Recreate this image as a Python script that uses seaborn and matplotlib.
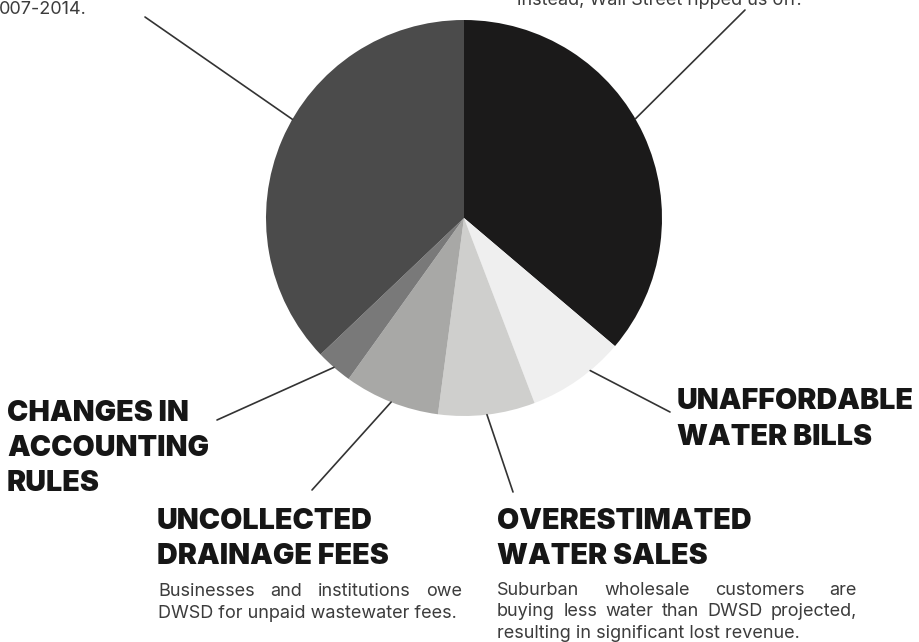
import matplotlib
matplotlib.use("Agg")
import matplotlib.pyplot as plt
import numpy as np
import seaborn as sns

# Datos del gráfico (porcentaje de cada causa)
causas = ["Wall Street", "Unaffordable water bills", "Overestimated water sales",
          "Uncollected drainage fees", "Changes in accounting rules", "Other 2007-2014"]
valores = [36.2, 8.0, 7.9, 7.8, 3.0, 37.1]

# Textos de las etiquetas
titulo_facturas = ["UNAFFORDABLE", "WATER BILLS"]
titulo_ventas = ["OVERESTIMATED", "WATER SALES"]
titulo_drenaje = ["UNCOLLECTED", "DRAINAGE FEES"]
titulo_contab = ["CHANGES IN", "ACCOUNTING", "RULES"]
texto_drenaje = ["Businesses and institutions owe", "DWSD for unpaid wastewater fees."]
texto_ventas = ["Suburban wholesale customers are",
                "buying less water than DWSD projected,",
                "resulting in significant lost revenue."]
texto_arriba_izq = "007-2014."
texto_arriba_der = "instead, Wall Street ripped us off."

colores = ["#1b1a1a", "#efefef", "#cfcfcd", "#a8a8a6", "#797979", "#4b4b4b"]

sns.set_theme(style="white")
plt.rcParams["font.family"] = ["Inter", "DejaVu Sans"]

W, H = 919, 642
fig = plt.figure(figsize=(W / 100, H / 100), dpi=100)

# Pastel: centro (464, 218) px, radio 198 px
cx, cy, R = 464, 218, 198
ax = fig.add_axes([(cx - R) / W, (H - cy - R) / H, 2 * R / W, 2 * R / H])
wedges, _ = ax.pie(valores, colors=colores, startangle=90, counterclock=False,
                   wedgeprops=dict(linewidth=0))
ax.set_xlim(-1, 1)
ax.set_ylim(-1, 1)

# Capa superior en coordenadas de píxel (origen arriba a la izquierda)
ov = fig.add_axes([0, 0, 1, 1], facecolor="none")
ov.set_xlim(0, W)
ov.set_ylim(H, 0)
ov.axis("off")

# Líneas guía: punto dentro de cada porción (fracción del arco) hasta el texto
fraccion = [0.46, 0.35, 0.5, 0.5, 0.5, 0.55]
extremos = [(745, 10), (670, 412), (513, 492), (312, 490), (217, 420), (145, 17)]
for w, f, (px, py) in zip(wedges, fraccion, extremos):
    ang = np.deg2rad(w.theta2 + f * (w.theta1 - w.theta2))
    ax.annotate("", xy=(np.cos(ang), np.sin(ang)), xycoords="data",
                xytext=(px, H - py), textcoords="figure pixels",
                arrowprops=dict(arrowstyle="-", color="#333333", lw=1.2,
                                shrinkA=0, shrinkB=0))

head = dict(fontsize=20.6, fontweight=900, color="#161616", va="baseline", ha="left")
body = dict(fontsize=13, fontweight=400, color="#3c3c3c", va="baseline", ha="left")


def bloque(x, y0, lineas, paso, **kw):
    for i, t in enumerate(lineas):
        ov.text(x, y0 + i * paso, t, **kw)


def justificado(x0, x1, y0, lineas, paso, **kw):
    r = fig.canvas.get_renderer()
    for i, linea in enumerate(lineas):
        y = y0 + i * paso
        palabras = linea.split()
        if i == len(lineas) - 1 or len(palabras) == 1:
            ov.text(x0, y, linea, **kw)
            continue
        arts = [ov.text(0, y, p, **kw) for p in palabras]
        anchos = [a.get_window_extent(r).width for a in arts]
        hueco = (x1 - x0 - sum(anchos)) / (len(palabras) - 1)
        x = x0
        for a, a_w in zip(arts, anchos):
            a.set_x(x)
            x += a_w + hueco


bloque(677, 409, titulo_facturas, 36, **head)
bloque(497, 529, titulo_ventas, 35, **head)
bloque(157, 529, titulo_drenaje, 35, **head)
bloque(7, 421, titulo_contab, 35, **head)

justificado(158, 462, 596, texto_drenaje, 22, **body)
justificado(497, 857, 595, texto_ventas, 21.5, **body)

ov.text(-1, 14, texto_arriba_izq, **body)
ov.text(517, 5, texto_arriba_der, **body)

fig.savefig("out.png", dpi=100, facecolor="white")
